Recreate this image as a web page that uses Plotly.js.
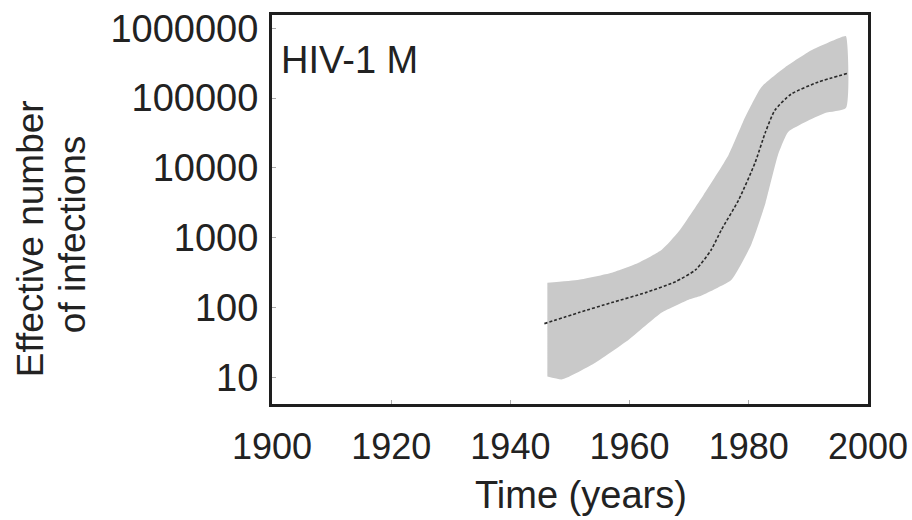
<!DOCTYPE html>
<html>
<head>
<meta charset="utf-8">
<script src="https://cdn.plot.ly/plotly-3.0.1.min.js"></script>
<style>
  html, body { margin: 0; padding: 0; background: #ffffff; }
  #chart { width: 912px; height: 520px; }
</style>
</head>
<body>
<div id="chart"></div>
<script>
// ---- data ----
const medianYears = [1945.7, 1951.5, 1957.0, 1962.7, 1967.7, 1971.1, 1973.7, 1975.4, 1978.3, 1981.1, 1982.8, 1984.4, 1987.1, 1991.6, 1996.7];
const medianValues = [59, 85, 118, 164, 235, 349, 674, 1300, 3490, 12190, 32700, 67400, 114000, 169000, 228000];

const upperYears = [1946.2, 1951.5, 1957.0, 1961.5, 1965.4, 1968.2, 1972.4, 1976.6, 1979.4, 1982.1, 1986.1, 1990.5, 1995.5, 1996.3];
const upperValues = [228, 251, 316, 439, 674, 1219, 4110, 15350, 53600, 143600, 277000, 485000, 744000, 769000];

const lowerYears = [1946.2, 1948.7, 1954.3, 1959.9, 1965.4, 1969.9, 1971.6, 1974.1, 1977.1, 1980.4, 1982.8, 1984.9, 1986.6, 1989.5, 1992.8, 1996.3];
const lowerValues = [10.3, 9.4, 16.4, 34.9, 84.9, 130, 144, 181, 251, 794, 3160, 15350, 32700, 45400, 61100, 72000];

const xTickValues = [1900, 1920, 1940, 1960, 1980, 2000];
const yTickValues = [10, 100, 1000, 10000, 100000, 1000000];
const yTickLabels = ['10', '100', '1000', '10000', '100000', '1000000'];

const panelLabel = 'HIV-1 M';
const xTitle = 'Time (years)';
const yTitleLines = ['Effective number', 'of infections'];

// ---- build traces ----
const bandX = upperYears.concat(lowerYears.slice().reverse());
const bandY = upperValues.concat(lowerValues.slice().reverse());

const FONT = '"Liberation Sans", Arial, Helvetica, sans-serif';
const INK = '#222222';

const traces = [
  {
    type: 'scatter', mode: 'lines',
    x: bandX, y: bandY,
    fill: 'toself', fillcolor: '#c9c9c9',
    line: { width: 0, color: '#c9c9c9', shape: 'spline', smoothing: 0.5 },
    hoverinfo: 'skip', showlegend: false
  },
  {
    type: 'scatter', mode: 'lines',
    x: medianYears, y: medianValues,
    line: { color: '#2a2a2a', width: 1.6, dash: '3px,2px', shape: 'spline', smoothing: 0.6 },
    showlegend: false
  }
];

const layout = {
  width: 912, height: 520,
  margin: { l: 272, r: 44, t: 15, b: 116, pad: 0 },
  paper_bgcolor: '#ffffff', plot_bgcolor: '#ffffff',
  font: { family: FONT, color: INK, size: 36 },
  showlegend: false,
  xaxis: {
    range: [1900, 2000],
    tickvals: xTickValues,
    ticks: 'inside', ticklen: 4, tickwidth: 1, tickcolor: '#aaaaaa',
    showgrid: false, zeroline: false,
    showline: true, mirror: true, linecolor: '#1e1e1e', linewidth: 3,
    tickfont: { family: FONT, size: 36, color: INK },
    ticklabelstandoff: 9
  },
  yaxis: {
    type: 'log',
    range: [0.62, 6.19],
    tickvals: yTickValues,
    ticktext: yTickLabels,
    ticks: 'inside', ticklen: 4, tickwidth: 1, tickcolor: '#aaaaaa',
    showgrid: false, zeroline: false,
    showline: true, mirror: true, linecolor: '#1e1e1e', linewidth: 3,
    tickfont: { family: FONT, size: 38, color: INK },
    ticklabelstandoff: 3
  },
  annotations: [
    {
      text: yTitleLines[0], textangle: -90,
      xref: 'paper', yref: 'paper',
      x: -0.405, y: 0.425, xanchor: 'center', yanchor: 'middle',
      showarrow: false,
      font: { family: FONT, size: 37, color: INK }
    },
    {
      text: yTitleLines[1], textangle: -90,
      xref: 'paper', yref: 'paper',
      x: -0.335, y: 0.435, xanchor: 'center', yanchor: 'middle',
      showarrow: false,
      font: { family: FONT, size: 37, color: INK }
    },
    {
      text: xTitle,
      xref: 'paper', yref: 'paper',
      x: 0.5185, y: -0.233, xanchor: 'center', yanchor: 'middle',
      showarrow: false,
      font: { family: FONT, size: 38, color: INK }
    },
    {
      text: panelLabel,
      xref: 'paper', yref: 'paper',
      x: 0.012, y: 0.884, xanchor: 'left', yanchor: 'middle',
      showarrow: false,
      font: { family: FONT, size: 38, color: INK }
    }
  ]
};

Plotly.newPlot('chart', traces, layout, { staticPlot: true, displayModeBar: false });
</script>
</body>
</html>
